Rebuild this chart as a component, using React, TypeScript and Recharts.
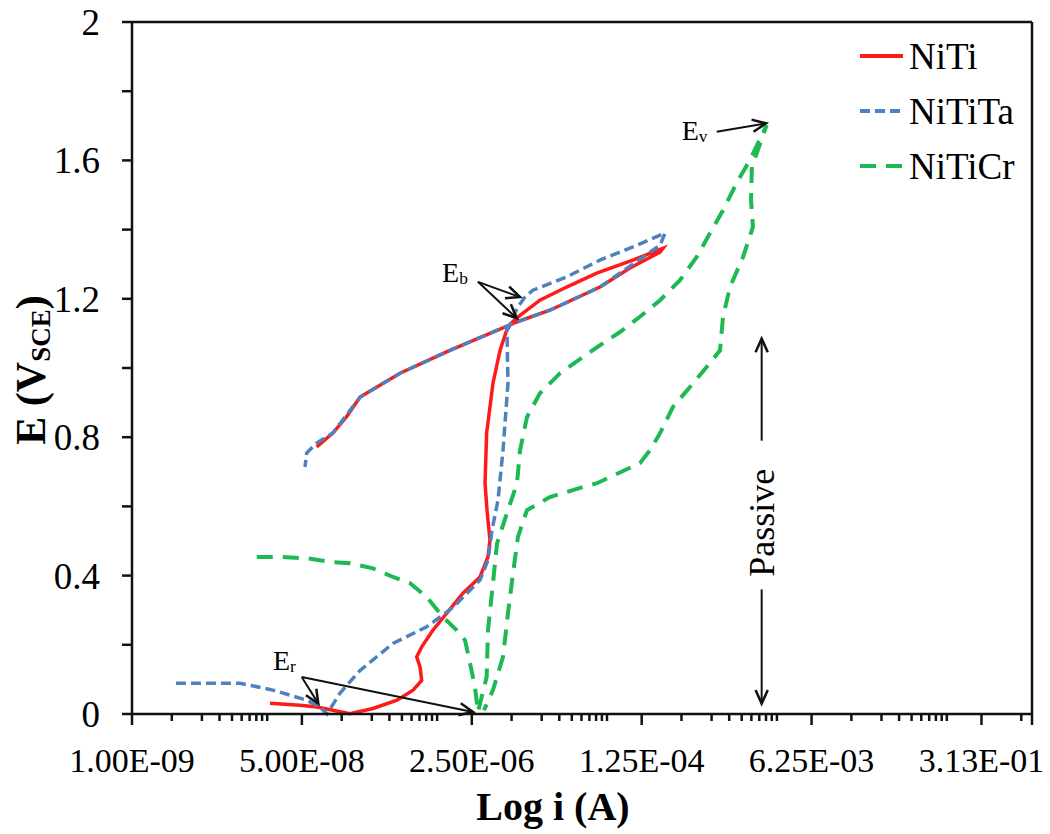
import React from 'react';
import { LineChart, Line, XAxis, YAxis, ReferenceLine, ReferenceDot, Customized } from 'recharts';

// ---- data (current in A, potential in V vs SCE) ----
const niTiI = [2.40e-8, 4.79e-8, 7.08e-8, 1.02e-7, 1.51e-7, 2.57e-7, 4.47e-7, 6.46e-7, 7.89e-7, 7.59e-7, 7.03e-7, 7.89e-7, 1.02e-6, 1.40e-6, 2.04e-6, 3.02e-6, 3.63e-6, 3.80e-6, 3.55e-6, 3.39e-6, 3.52e-6, 4.07e-6, 4.79e-6, 5.58e-6, 6.31e-6, 7.59e-6, 1.20e-5, 2.22e-5, 4.44e-5, 1.02e-4, 2.04e-4, 1.91e-4, 9.55e-5, 4.79e-5, 1.51e-5, 7.03e-6, 1.51e-6, 4.79e-7, 1.91e-7, 1.40e-7, 1.02e-7, 7.03e-8];
const niTiE = [0.031, 0.025, 0.020, 0.011, 0.001, 0.016, 0.040, 0.069, 0.097, 0.136, 0.165, 0.194, 0.242, 0.291, 0.349, 0.396, 0.454, 0.502, 0.589, 0.667, 0.812, 0.956, 1.051, 1.109, 1.132, 1.152, 1.196, 1.234, 1.274, 1.312, 1.346, 1.335, 1.289, 1.234, 1.167, 1.133, 1.051, 0.985, 0.916, 0.859, 0.812, 0.772];

const niTiTaI = [2.75e-9, 1.20e-8, 2.57e-8, 5.58e-8, 7.59e-8, 8.51e-8, 8.91e-8, 1.20e-7, 1.91e-7, 4.07e-7, 8.85e-7, 1.62e-6, 3.02e-6, 3.63e-6, 3.98e-6, 4.57e-6, 5.13e-6, 5.75e-6, 5.62e-6, 6.31e-6, 7.08e-6, 8.51e-6, 1.02e-5, 2.22e-5, 4.79e-5, 1.02e-4, 2.14e-4, 1.91e-4, 4.79e-5, 1.51e-5, 7.03e-6, 1.51e-6, 4.79e-7, 1.91e-7, 1.02e-7, 7.03e-8, 5.58e-8, 5.37e-8];
const niTiTaE = [0.089, 0.089, 0.069, 0.040, 0.020, 0.006, 0.000, 0.060, 0.126, 0.204, 0.252, 0.308, 0.387, 0.445, 0.531, 0.618, 0.762, 0.956, 1.109, 1.138, 1.173, 1.205, 1.225, 1.263, 1.312, 1.350, 1.390, 1.355, 1.234, 1.167, 1.133, 1.051, 0.985, 0.916, 0.812, 0.783, 0.754, 0.714];

const niTiCrI = [1.77e-8, 3.02e-8, 5.58e-8, 1.02e-7, 1.51e-7, 2.57e-7, 4.07e-7, 6.03e-7, 8.85e-7, 1.29e-6, 1.77e-6, 2.14e-6, 2.40e-6, 2.69e-6, 2.88e-6, 3.52e-6, 3.63e-6, 4.07e-6, 4.47e-6, 5.62e-6, 7.08e-6, 7.59e-6, 8.91e-6, 1.20e-5, 1.91e-5, 3.24e-5, 4.47e-5, 7.59e-5, 1.20e-4, 1.91e-4, 3.02e-4, 4.44e-4, 6.03e-4, 8.13e-4, 1.11e-3, 1.51e-3, 2.22e-3, 1.58e-3, 1.55e-3, 1.62e-3, 1.29e-3, 9.55e-4, 8.13e-4, 7.59e-4, 5.58e-4, 3.80e-4, 2.57e-4, 1.91e-4, 1.51e-4, 1.20e-4, 4.47e-5, 3.24e-5, 1.51e-5, 8.91e-6, 7.24e-6, 6.46e-6, 5.75e-6, 5.13e-6, 4.07e-6, 3.31e-6];
const niTiCrE = [0.454, 0.454, 0.450, 0.439, 0.436, 0.421, 0.396, 0.378, 0.338, 0.280, 0.242, 0.213, 0.147, 0.078, 0.006, 0.107, 0.242, 0.378, 0.493, 0.580, 0.667, 0.762, 0.858, 0.927, 0.985, 1.032, 1.060, 1.104, 1.148, 1.196, 1.254, 1.321, 1.390, 1.456, 1.534, 1.601, 1.702, 1.581, 1.485, 1.408, 1.321, 1.234, 1.148, 1.051, 1.003, 0.945, 0.888, 0.812, 0.762, 0.725, 0.667, 0.656, 0.627, 0.589, 0.512, 0.407, 0.291, 0.165, 0.069, 0.011];

// ---- axes ----
const xMajorTicks = [1e-9, 5e-8, 2.5e-6, 1.25e-4, 6.25e-3, 3.125e-1];
const xMajorLabels = ['1.00E-09', '5.00E-08', '2.50E-06', '1.25E-04', '6.25E-03', '3.13E-01'];
const xMinorFactors = [2.5, 5, 7.5, 10, 12.5, 15, 17.5, 20, 22.5];
const xDomain = [1e-9, 1];
const yTicks = [0, 0.2, 0.4, 0.6, 0.8, 1.0, 1.2, 1.4, 1.6, 1.8, 2.0];
const yLabelled = [0, 0.4, 0.8, 1.2, 1.6, 2.0];
const yDomain = [0, 2];

const seriesNames = ['NiTi', 'NiTiTa', 'NiTiCr'];
const seriesColors = ['#FF1A1A', '#4F81BD', '#1DB954'];
const seriesDash = ['', '10 5', '16 10'];

// ---- annotations ----
const ebText = { i: 1.26e-6, e: 1.249 };
const ebArrows = [
  [{ x: 2.88e-6, y: 1.249 }, { x: 7.59e-6, y: 1.205 }],
  [{ x: 2.88e-6, y: 1.249 }, { x: 7.03e-6, y: 1.144 }],
];
const evText = { i: 3.14e-4, e: 1.659 };
const evArrow = [{ x: 7.03e-4, y: 1.683 }, { x: 2.19e-3, y: 1.707 }];
const erText = { i: 2.57e-8, e: 0.126 };
const erArrows = [
  [{ x: 4.98e-8, y: 0.107 }, { x: 7.30e-8, y: 0.030 }],
  [{ x: 4.98e-8, y: 0.107 }, { x: 2.57e-6, y: 0.006 }],
];
const passiveX = 1.98e-3;
const passiveArrows = [
  [{ x: passiveX, y: 0.79 }, { x: passiveX, y: 1.085 }],
  [{ x: passiveX, y: 0.36 }, { x: passiveX, y: 0.03 }],
];
const passiveTextE = 0.553;

const FONT = '"Liberation Serif", "Times New Roman", serif';

const toPts = (xs: number[], ys: number[]) => xs.map((x, k) => ({ i: x, e: ys[k] }));
const niTiData = toPts(niTiI, niTiE);
const niTiTaData = toPts(niTiTaI, niTiTaE);
const niTiCrData = toPts(niTiCrI, niTiCrE);

const xAllTicks: number[] = [];
xMajorTicks.forEach((m) => {
  xAllTicks.push(m);
  xMinorFactors.forEach((f) => {
    const v = m * f;
    if (v <= xDomain[1]) xAllTicks.push(v);
  });
});
xAllTicks.push(xDomain[1]);

const XTick = (props: any) => {
  const { x, y, payload } = props;
  const v = payload.value;
  const idx = xMajorTicks.findIndex((t) => Math.abs(t - v) / t < 1e-6);
  const major = idx >= 0;
  const isEnd = Math.abs(v - xDomain[1]) < 1e-9;
  return (
    <g>
      <line x1={x} x2={x} y1={y} y2={y + (major || isEnd ? 11 : 7)} stroke="#111" strokeWidth={2.5} />
      {major && (
        <text x={x} y={y + 58} textAnchor="middle" fontSize={34} fontFamily={FONT} fill="#000">
          {xMajorLabels[idx]}
        </text>
      )}
    </g>
  );
};

const YTick = (props: any) => {
  const { x, y, payload } = props;
  const v = payload.value;
  const lab = yLabelled.some((t) => Math.abs(t - v) < 1e-6);
  return (
    <g>
      <line x1={x - 10} x2={x} y1={y} y2={y} stroke="#111" strokeWidth={2.5} />
      {lab && (
        <text x={x - 32} y={y} dy="0.35em" textAnchor="end" fontSize={37} fontFamily={FONT} fill="#000">
          {Number.isInteger(v) ? String(v) : v.toFixed(1)}
        </text>
      )}
    </g>
  );
};

const arrowShape = (p: any) => {
  const { x1, y1, x2, y2 } = p;
  const ang = Math.atan2(y2 - y1, x2 - x1);
  const L = 15;
  const W = 0.42;
  const ax = x2 - L * Math.cos(ang - W);
  const ay = y2 - L * Math.sin(ang - W);
  const bx = x2 - L * Math.cos(ang + W);
  const by = y2 - L * Math.sin(ang + W);
  return (
    <g>
      <line x1={x1} y1={y1} x2={x2} y2={y2} stroke="#111" strokeWidth={2} />
      <polyline points={`${ax},${ay} ${x2},${y2} ${bx},${by}`} fill="none" stroke="#111" strokeWidth={2.5} />
    </g>
  );
};

const subLabel = (main: string, sub: string, size: number) => (p: any) => (
  <text x={p.cx} y={p.cy} fontSize={size} fontFamily={FONT} fill="#000">
    {main}
    <tspan fontSize={size * 0.62} dy={2}>{sub}</tspan>
  </text>
);

const passiveLabel = (p: any) => (
  <text
    x={p.cx}
    y={p.cy}
    transform={`rotate(-90 ${p.cx} ${p.cy})`}
    textAnchor="middle"
    dy="0.35em"
    fontSize={36}
    fontFamily={FONT}
    fill="#000"
  >
    Passive
  </text>
);

const LegendBlock = () => (
  <g>
    {seriesNames.map((n, k) => {
      const y = 56 + k * 55;
      return (
        <g key={n}>
          <line x1={860} x2={903} y1={y} y2={y} stroke={seriesColors[k]} strokeWidth={4} strokeDasharray={seriesDash[k] || undefined} />
          <text x={909} y={y + 13} fontSize={37} fontFamily={FONT} fill="#000">{n}</text>
        </g>
      );
    })}
  </g>
);

const Titles = () => (
  <g>
    <text x={553} y={820} textAnchor="middle" fontSize={40} fontWeight="bold" fontFamily={FONT} fill="#000">
      Log i (A)
    </text>
    <text
      x={45}
      y={370}
      transform="rotate(-90 45 370)"
      textAnchor="middle"
      fontSize={42}
      fontWeight="bold"
      fontFamily={FONT}
      fill="#000"
    >
      E (V<tspan fontSize={27} dy={5}>SCE</tspan><tspan dy={-5}>)</tspan>
    </text>
  </g>
);

export default function App() {
  return (
    <div style={{ position: 'absolute', left: 0, top: 0, width: 1050, height: 834, background: '#fff' }}>
      <LineChart width={1050} height={834} margin={{ top: 22, right: 18, left: 0, bottom: 60 }}>
        <XAxis
          type="number"
          dataKey="i"
          scale="log"
          domain={xDomain}
          allowDataOverflow
          ticks={xAllTicks}
          interval={0}
          tick={<XTick />}
          tickLine={false}
          tickSize={0}
          tickMargin={0}
          height={60}
          axisLine={{ stroke: '#111', strokeWidth: 2.5 }}
        />
        <YAxis
          type="number"
          dataKey="e"
          domain={yDomain}
          ticks={yTicks}
          interval={0}
          tick={<YTick />}
          tickLine={false}
          tickSize={0}
          tickMargin={0}
          width={132}
          axisLine={{ stroke: '#111', strokeWidth: 2.5 }}
        />
        <ReferenceLine y={2} stroke="#111" strokeWidth={2.5} />
        <ReferenceLine x={1} stroke="#111" strokeWidth={2.5} />
        <Line data={niTiData} dataKey="e" type="linear" stroke={seriesColors[0]} strokeWidth={3.5} dot={false} isAnimationActive={false} />
        <Line data={niTiTaData} dataKey="e" type="linear" stroke={seriesColors[1]} strokeWidth={3.5} strokeDasharray={seriesDash[1]} dot={false} isAnimationActive={false} />
        <Line data={niTiCrData} dataKey="e" type="linear" stroke={seriesColors[2]} strokeWidth={4} strokeDasharray={seriesDash[2]} dot={false} isAnimationActive={false} />
        {ebArrows.map((seg, k) => (
          <ReferenceLine key={'eb' + k} segment={seg} shape={arrowShape} />
        ))}
        <ReferenceLine segment={evArrow} shape={arrowShape} />
        {erArrows.map((seg, k) => (
          <ReferenceLine key={'er' + k} segment={seg} shape={arrowShape} />
        ))}
        {passiveArrows.map((seg, k) => (
          <ReferenceLine key={'pa' + k} segment={seg} shape={arrowShape} />
        ))}
        <ReferenceDot x={ebText.i} y={ebText.e} r={0} shape={subLabel('E', 'b', 28)} />
        <ReferenceDot x={evText.i} y={evText.e} r={0} shape={subLabel('E', 'v', 28)} />
        <ReferenceDot x={erText.i} y={erText.e} r={0} shape={subLabel('E', 'r', 28)} />
        <ReferenceDot x={passiveX} y={passiveTextE} r={0} shape={passiveLabel} />
        <Customized component={LegendBlock} />
        <Customized component={Titles} />
      </LineChart>
    </div>
  );
}
